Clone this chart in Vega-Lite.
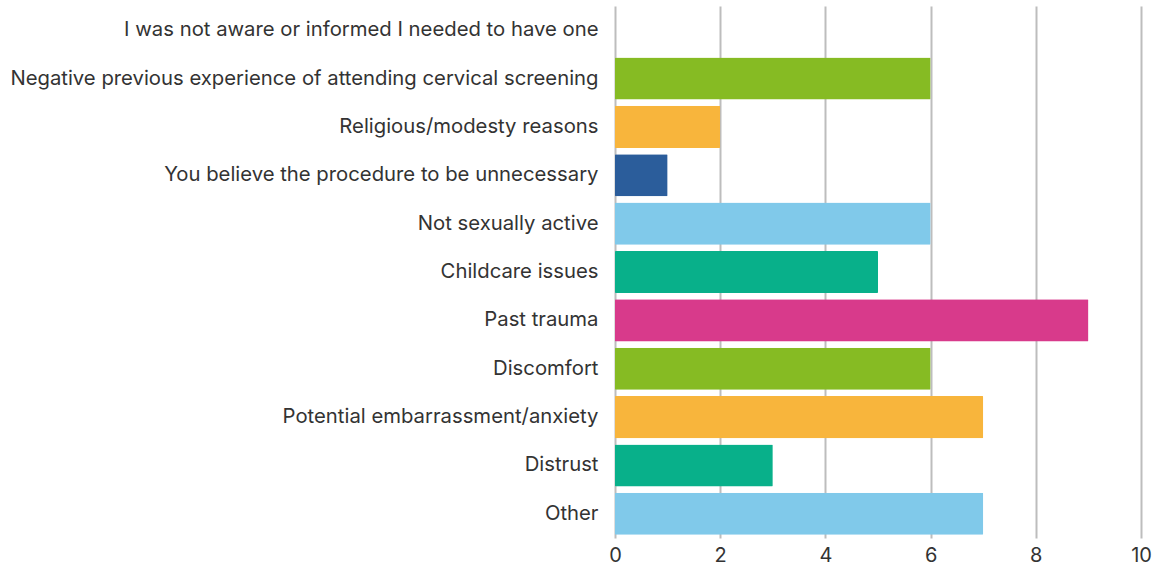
{
  "$schema": "https://vega.github.io/schema/vega-lite/v6.json",
  "autosize": {"type": "none"},
  "width": 526,
  "height": 532,
  "padding": {"left": 615, "top": 6, "right": 17, "bottom": 29},
  "background": "white",
  "data": {
    "values": [
      {"reason": "I was not aware or informed I needed to have one", "count": 0, "colour": "green"},
      {"reason": "Negative previous experience of attending cervical screening", "count": 6, "colour": "green"},
      {"reason": "Religious/modesty reasons", "count": 2, "colour": "orange"},
      {"reason": "You believe the procedure to be unnecessary", "count": 1, "colour": "darkblue"},
      {"reason": "Not sexually active", "count": 6, "colour": "lightblue"},
      {"reason": "Childcare issues", "count": 5, "colour": "teal"},
      {"reason": "Past trauma", "count": 9, "colour": "magenta"},
      {"reason": "Discomfort", "count": 6, "colour": "green"},
      {"reason": "Potential embarrassment/anxiety", "count": 7, "colour": "orange"},
      {"reason": "Distrust", "count": 3, "colour": "teal"},
      {"reason": "Other", "count": 7, "colour": "lightblue"}
    ]
  },
  "mark": {"type": "bar", "cornerRadius": 1},
  "encoding": {
    "y": {
      "field": "reason",
      "type": "nominal",
      "sort": null,
      "scale": {"paddingInner": 0.13, "paddingOuter": 0.065},
      "axis": {
        "title": null,
        "domain": false,
        "ticks": false,
        "grid": false,
        "labelFont": "Inter",
        "labelFontSize": 20.3,
        "labelColor": "#333333",
        "labelPadding": 17,
        "labelLimit": 700
      }
    },
    "x": {
      "field": "count",
      "type": "quantitative",
      "scale": {"domain": [0, 10], "nice": false},
      "axis": {
        "title": null,
        "values": [0, 2, 4, 6, 8, 10],
        "domain": false,
        "ticks": false,
        "grid": true,
        "gridColor": "#bdbdbd",
        "gridWidth": 2,
        "labelFlush": false,
        "labelFont": "Inter",
        "labelFontSize": 20,
        "labelColor": "#333333",
        "labelPadding": 7
      }
    },
    "color": {
      "field": "colour",
      "type": "nominal",
      "legend": null,
      "scale": {
        "domain": ["green", "orange", "darkblue", "lightblue", "teal", "magenta"],
        "range": ["#86bb23", "#f8b53c", "#2b5d9b", "#80c9ea", "#08b08a", "#d83a8b"]
      }
    }
  },
  "config": {"view": {"stroke": null}}
}
